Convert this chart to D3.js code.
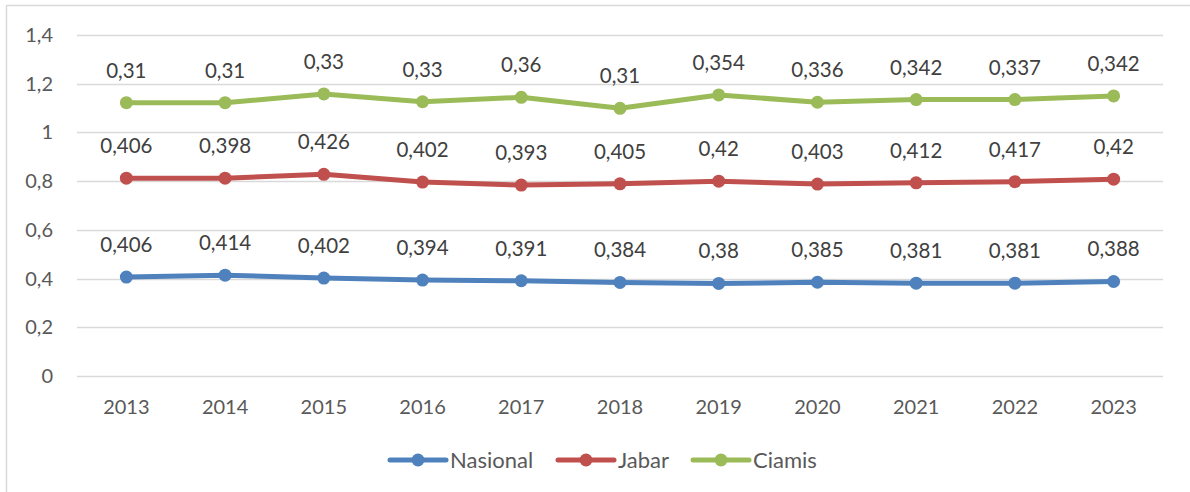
<!DOCTYPE html>
<html>
<head>
<meta charset="utf-8">
<script src="https://cdn.jsdelivr.net/npm/d3@7"></script>
<style>
  body { margin: 0; background: #fff; }
  text { font-family: Lato, "Noto Sans", sans-serif; fill: #595959; }
</style>
</head>
<body>
<svg id="chart" width="1190" height="492"></svg>
<script>
const years = ["2013", "2014", "2015", "2016", "2017", "2018", "2019", "2020", "2021", "2022", "2023"];
const nasional = [0.406, 0.414, 0.402, 0.394, 0.391, 0.384, 0.38, 0.385, 0.381, 0.381, 0.388];
const jabar = [0.406, 0.398, 0.426, 0.402, 0.393, 0.405, 0.42, 0.403, 0.412, 0.417, 0.42];
const ciamis = [0.31, 0.31, 0.33, 0.33, 0.36, 0.31, 0.354, 0.336, 0.342, 0.337, 0.342];
const yTicks = [0, 0.2, 0.4, 0.6, 0.8, 1, 1.2, 1.4];

const seriesNames = ["Nasional", "Jabar", "Ciamis"];
const seriesColors = ["#4f81bd", "#c0504d", "#9bbb59"];

const svg = d3.select("#chart");

// chart area border (cropped at right and bottom)
svg.append("rect")
    .attr("x", 6.5).attr("y", 5.5)
    .attr("width", 1200).attr("height", 500)
    .attr("fill", "none")
    .attr("stroke", "#d9d9d9")
    .attr("stroke-width", 1.5);

const plot = { left: 77, right: 1163, top: 35, bottom: 376 };

const x = d3.scaleBand().domain(years).range([plot.left, plot.right]);
const y = d3.scaleLinear().domain([0, 1.4]).range([plot.bottom, plot.top]);
const fmt = v => String(v).replace(".", ",");

// gridlines
svg.append("g")
    .selectAll("line")
    .data(yTicks)
    .join("line")
    .attr("x1", plot.left).attr("x2", plot.right)
    .attr("y1", d => Math.round(y(d)) + 0.5)
    .attr("y2", d => Math.round(y(d)) + 0.5)
    .attr("stroke", "#d9d9d9")
    .attr("stroke-width", 1.5);

// y axis labels
svg.append("g")
    .selectAll("text")
    .data(yTicks)
    .join("text")
    .attr("x", 53)
    .attr("y", d => y(d))
    .attr("dy", "0.35em")
    .attr("text-anchor", "end")
    .attr("font-size", 20)
    .text(d => fmt(d));

// x axis labels
svg.append("g")
    .selectAll("text")
    .data(years)
    .join("text")
    .attr("x", d => x(d) + x.bandwidth() / 2)
    .attr("y", 414)
    .attr("text-anchor", "middle")
    .attr("font-size", 20)
    .text(d => d);

// stacked values
const table = years.map((yr, i) => ({ year: yr, Nasional: nasional[i], Jabar: jabar[i], Ciamis: ciamis[i] }));
const stacked = d3.stack().keys(seriesNames)(table);

const line = d3.line()
    .x(d => x(d.data.year) + x.bandwidth() / 2)
    .y(d => y(d[1]));

stacked.forEach((s, si) => {
    const g = svg.append("g");
    g.append("path")
        .datum(s)
        .attr("d", line)
        .attr("fill", "none")
        .attr("stroke", seriesColors[si])
        .attr("stroke-width", 5)
        .attr("stroke-linejoin", "round")
        .attr("stroke-linecap", "round");
    g.selectAll("circle")
        .data(s)
        .join("circle")
        .attr("cx", d => x(d.data.year) + x.bandwidth() / 2)
        .attr("cy", d => y(d[1]))
        .attr("r", 6.5)
        .attr("fill", seriesColors[si]);
    g.selectAll("text")
        .data(s)
        .join("text")
        .attr("x", d => x(d.data.year) + x.bandwidth() / 2)
        .attr("y", d => y(d[1]) - 25)
        .attr("text-anchor", "middle")
        .attr("font-size", 20.5)
        .style("fill", "#404040")
        .text(d => fmt(d.data[s.key]));
});

// legend
const legendX = [390, 558, 693];
const legend = svg.append("g");
seriesNames.forEach((name, i) => {
    const lx = legendX[i];
    legend.append("line")
        .attr("x1", lx).attr("x2", lx + 56)
        .attr("y1", 460).attr("y2", 460)
        .attr("stroke", seriesColors[i])
        .attr("stroke-width", 5)
        .attr("stroke-linecap", "round");
    legend.append("circle")
        .attr("cx", lx + 28).attr("cy", 460)
        .attr("r", 6.5)
        .attr("fill", seriesColors[i]);
    legend.append("text")
        .attr("x", lx + 60)
        .attr("y", 460)
        .attr("dy", "0.35em")
        .attr("font-size", 22)
        .text(name);
});
</script>
</body>
</html>
